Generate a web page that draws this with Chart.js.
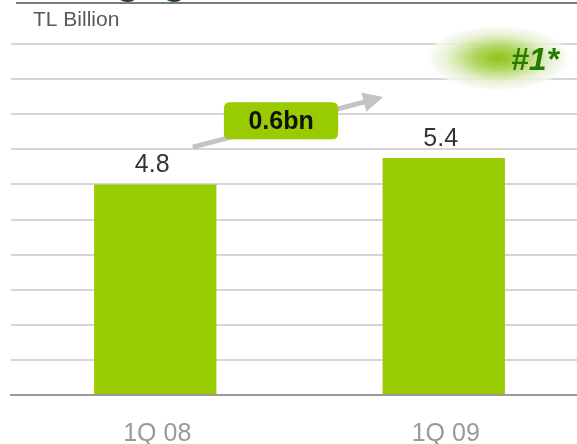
<!DOCTYPE html>
<html>
<head>
<meta charset="utf-8">
<script src="https://cdn.jsdelivr.net/npm/chart.js@4.4.1/dist/chart.umd.min.js"></script>
<style>
  html, body { margin: 0; padding: 0; background: #fff; overflow: hidden; }
  #wrap { position: relative; width: 590px; height: 444px; }
</style>
</head>
<body>
<div id="wrap"><canvas id="c"></canvas></div>
<script>
const categories = ['1Q 08', '1Q 09'];
const values = [4.8, 5.4];
const yMin = 0;
const yMax = 8;
const yStep = 0.8;
const unitLabel = 'TL Billion';
const titleText = 'Mortgage';
const rankLabel = '#1*';
const changeLabel = (values[1] - values[0]).toFixed(1) + 'bn';

const FONT = "'Liberation Sans', Arial, sans-serif";

function roundRect(ctx, x, y, w, h, r) {
  ctx.beginPath();
  ctx.moveTo(x + r, y);
  ctx.lineTo(x + w - r, y);
  ctx.quadraticCurveTo(x + w, y, x + w, y + r);
  ctx.lineTo(x + w, y + h - r);
  ctx.quadraticCurveTo(x + w, y + h, x + w - r, y + h);
  ctx.lineTo(x + r, y + h);
  ctx.quadraticCurveTo(x, y + h, x, y + h - r);
  ctx.lineTo(x, y + r);
  ctx.quadraticCurveTo(x, y, x + r, y);
  ctx.closePath();
}

const decor = {
  id: 'decor',
  afterDatasetsDraw(chart) {
    const ctx = chart.ctx;
    const xs = chart.scales.x, ys = chart.scales.y;
    const X = i => xs.getPixelForValue(i);
    const Y = v => ys.getPixelForValue(v);
    ctx.save();

    // cut-off title at the very top
    ctx.fillStyle = '#17461a';
    ctx.font = 'bold 40px ' + FONT;
    ctx.textAlign = 'left';
    ctx.textBaseline = 'alphabetic';
    ctx.fillText(titleText, 29, -6);

    // top rule
    ctx.strokeStyle = '#7a7a7a';
    ctx.lineWidth = 2;
    ctx.beginPath();
    ctx.moveTo(16, 3);
    ctx.lineTo(chart.width, 3);
    ctx.stroke();

    // unit label
    ctx.fillStyle = '#595959';
    ctx.font = '21px ' + FONT;
    ctx.fillText(unitLabel, 33, 26);

    // category labels
    ctx.fillStyle = '#999999';
    ctx.font = '25px ' + FONT;
    ctx.textAlign = 'center';
    ctx.textBaseline = 'alphabetic';
    categories.forEach((c, i) => {
      ctx.fillText(c, X(i) + 2, chart.chartArea.bottom + 46);
    });

    // value labels
    ctx.fillStyle = '#333333';
    ctx.font = '25px ' + FONT;
    const meta = chart.getDatasetMeta(0);
    meta.data.forEach((bar, i) => {
      ctx.fillText(values[i].toFixed(1), bar.x - 3, bar.y - 12);
    });

    // growth arrow
    const sx = X(0.13), sy = Y(5.65);
    const tx = X(0.79), ty = Y(6.79);
    const dx = tx - sx, dy = ty - sy;
    const len = Math.hypot(dx, dy);
    const ux = dx / len, uy = dy / len;
    const head = 20, half = 10;
    const bx = tx - ux * head, by = ty - uy * head;
    ctx.strokeStyle = '#c4c4c4';
    ctx.lineWidth = 5;
    ctx.lineCap = 'butt';
    ctx.beginPath();
    ctx.moveTo(sx, sy);
    ctx.lineTo(bx + ux * 2, by + uy * 2);
    ctx.stroke();
    ctx.fillStyle = '#c4c4c4';
    ctx.beginPath();
    ctx.moveTo(tx, ty);
    ctx.lineTo(bx - uy * half, by + ux * half);
    ctx.lineTo(bx + uy * half, by - ux * half);
    ctx.closePath();
    ctx.fill();

    // change box
    const lx = X(0.238), rx = X(0.634);
    const top = Y(6.67), bot = Y(5.83);
    ctx.fillStyle = '#99cc00';
    roundRect(ctx, lx, top, rx - lx, bot - top, 6);
    ctx.fill();
    ctx.fillStyle = '#111111';
    ctx.font = 'bold 25px ' + FONT;
    ctx.textAlign = 'center';
    ctx.textBaseline = 'middle';
    ctx.fillText(changeLabel, (lx + rx) / 2, (top + bot) / 2 + 1);

    // rank glow
    const gx = X(1.19), gy = Y(7.68);
    ctx.save();
    ctx.translate(gx, gy);
    ctx.scale(2.2, 1);
    const g = ctx.createRadialGradient(0, 0, 0, 0, 0, 33);
    g.addColorStop(0, 'rgba(140,195,25,1)');
    g.addColorStop(0.35, 'rgba(175,212,90,0.95)');
    g.addColorStop(0.7, 'rgba(228,240,205,0.9)');
    g.addColorStop(0.92, 'rgba(245,248,240,0.8)');
    g.addColorStop(1, 'rgba(255,255,255,0)');
    ctx.fillStyle = g;
    ctx.beginPath();
    ctx.arc(0, 0, 33, 0, Math.PI * 2);
    ctx.fill();
    ctx.restore();

    ctx.fillStyle = '#257a00';
    ctx.font = 'italic bold 32px ' + FONT;
    ctx.textAlign = 'center';
    ctx.textBaseline = 'alphabetic';
    ctx.fillText(rankLabel, X(1.316), Y(7.41));

    ctx.restore();
  }
};

new Chart(document.getElementById('c'), {
  type: 'bar',
  data: {
    labels: categories,
    datasets: [{
      data: values,
      backgroundColor: '#99cc00',
      borderWidth: 0,
      barPercentage: 0.424,
      categoryPercentage: 1.0
    }]
  },
  options: {
    responsive: true,
    maintainAspectRatio: false,
    animation: false,
    layout: { padding: { top: 44, left: 11, right: 2, bottom: 49 } },
    plugins: { legend: { display: false }, tooltip: { enabled: false } },
    scales: {
      x: {
        grid: { display: false, drawTicks: false },
        border: { display: true, color: '#9a9a9a', width: 2 },
        ticks: { display: false }
      },
      y: {
        min: yMin, max: yMax,
        ticks: { display: false, stepSize: yStep },
        grid: { color: '#d6d6d6', lineWidth: 2, drawTicks: false },
        border: { display: false }
      }
    }
  },
  plugins: [decor]
});
</script>
</body>
</html>
